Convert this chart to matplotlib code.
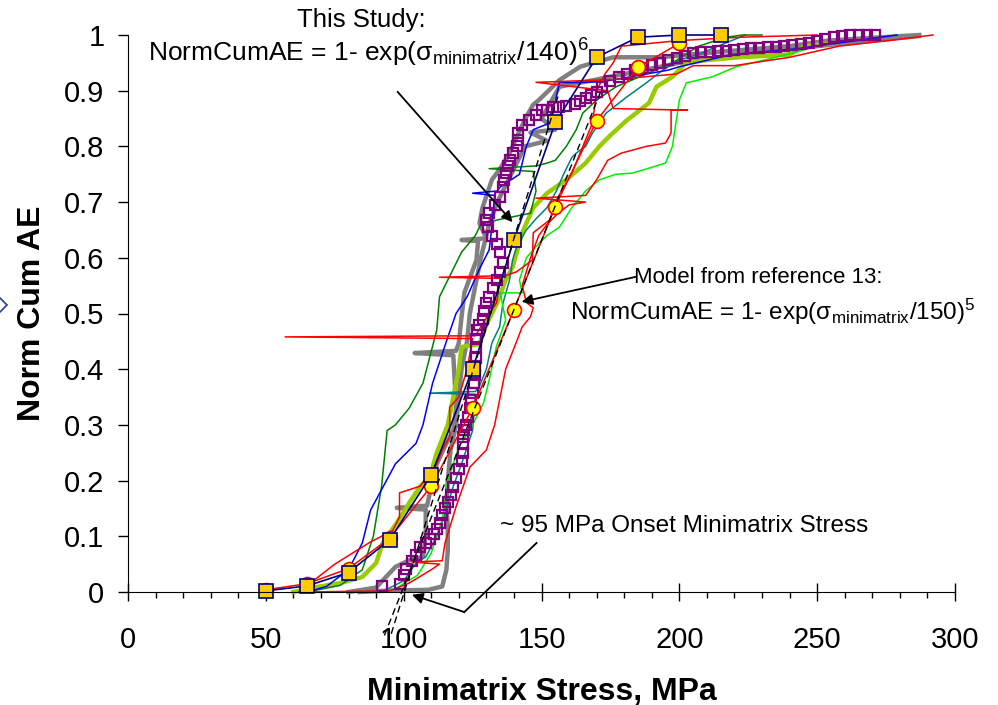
import numpy as np
import matplotlib.pyplot as plt
from matplotlib.ticker import MultipleLocator

plt.rcParams['font.family'] = ['Liberation Sans', 'DejaVu Sans']
plt.rcParams['mathtext.fontset'] = 'custom'
plt.rcParams['mathtext.rm'] = 'Liberation Sans'
plt.rcParams['mathtext.it'] = 'Liberation Sans:italic'

# --- model points (this study, Weibull m=6, s0=140) ---
study_x = [50, 65, 80, 95, 110, 125, 140, 155, 170, 185, 200, 215]
study_y = [0.002, 0.011, 0.035, 0.094, 0.21, 0.40, 0.632, 0.843, 0.96, 0.996, 1.0, 1.0]

# --- model points (reference 13, m=5, s0=150) ---
ref13_x = [50, 65, 80, 95, 110, 125, 140, 155, 170, 185, 200]
ref13_y = [0.004, 0.015, 0.042, 0.097, 0.19, 0.33, 0.507, 0.692, 0.846, 0.942, 0.985]

# --- tangent lines giving the onset stress ---
tan_study_x = [95.5, 156.0]
tan_study_y = [-0.075, 0.89]
tan_ref13_x = [93.0, 172.0]
tan_ref13_y = [-0.078, 0.905]

# --- measured curves ---
purple_x = [92, 98.5, 100, 101, 103, 104.5, 106, 108, 109.5, 111, 112, 113, 114, 115, 116,
            117, 118, 119, 120, 121, 121.4, 121.4, 121.6, 122, 122.7, 123.5, 124, 124.6, 125,
            125.4, 125.8, 126, 126.2, 126.4, 126.4, 126.6, 127.5, 128.6, 129.3, 130, 131, 132.3,
            133.7, 134.8, 136, 135, 133.7, 132, 130.5, 130, 131, 133, 135, 136, 136.5, 137,
            137.7, 138.4, 139.5, 141, 141.3, 141.5, 143, 145.6, 148, 150, 152, 154, 156.5, 159,
            162, 164, 166, 168, 170, 172, 175, 178, 181, 184, 187, 190, 193, 196, 199, 202, 205,
            208, 211, 214, 217, 220, 223, 226, 229, 232, 235, 238, 241, 244, 247, 250, 253, 256,
            259, 262, 265, 268, 271]
purple_y = [0.010, 0.015, 0.03, 0.042, 0.055, 0.066, 0.08, 0.088, 0.095, 0.105, 0.113, 0.124,
            0.138, 0.15, 0.162, 0.175, 0.188, 0.205, 0.22, 0.235, 0.25, 0.265, 0.278, 0.29, 0.30,
            0.315, 0.33, 0.345, 0.357, 0.375, 0.39, 0.405, 0.42, 0.44, 0.455, 0.47, 0.48, 0.49,
            0.505, 0.518, 0.53, 0.545, 0.56, 0.575, 0.59, 0.61, 0.625, 0.64, 0.655, 0.668, 0.68,
            0.695, 0.71, 0.727, 0.74, 0.752, 0.765, 0.776, 0.788, 0.80, 0.812, 0.824, 0.838,
            0.847, 0.856, 0.865, 0.866, 0.87, 0.87, 0.872, 0.876, 0.882, 0.886, 0.892, 0.897,
            0.907, 0.918, 0.925, 0.93, 0.937, 0.941, 0.946, 0.95, 0.955, 0.958, 0.963, 0.967,
            0.969, 0.97, 0.971, 0.972, 0.973, 0.974, 0.976, 0.977, 0.978, 0.979, 0.981, 0.982,
            0.984, 0.986, 0.99, 0.993, 0.997, 0.999, 1.0, 1.0, 1.0, 1.0]

gray1_x = [80, 90, 97, 102, 107, 108, 108, 97.5, 108.5, 110, 112, 115.5, 118, 119, 118.5, 118,
           104, 119, 120, 121, 122, 126.4, 127, 121, 130, 127.5, 128.6, 132, 135, 138.4, 141,
           144.5, 147, 149, 156.5, 164, 176, 193, 215, 240, 254, 270, 287]
gray1_y = [0, 0.008, 0.045, 0.057, 0.063, 0.10, 0.148, 0.151, 0.155, 0.19, 0.23, 0.267, 0.29,
           0.33, 0.38, 0.425, 0.429, 0.433, 0.447, 0.494, 0.537, 0.596, 0.63, 0.632, 0.635,
           0.662, 0.69, 0.74, 0.76, 0.788, 0.817, 0.853, 0.875, 0.883, 0.919, 0.943, 0.96, 0.96,
           0.97, 0.98, 0.99, 0.995, 1.0]
gray2_x = [84, 92, 109, 114, 115.5, 116, 116, 115.5, 116, 117, 119, 120, 121, 123, 124, 126,
           128, 131, 134, 137, 140, 142, 144, 152, 146, 155, 150, 156.5, 175, 200, 230, 260, 287]
gray2_y = [0, 0.002, 0.004, 0.01, 0.04, 0.075, 0.117, 0.153, 0.2, 0.255, 0.3, 0.35, 0.4, 0.45,
           0.5, 0.55, 0.6, 0.66, 0.7, 0.73, 0.76, 0.78, 0.80, 0.81, 0.825, 0.83, 0.85, 0.907,
           0.925, 0.95, 0.97, 0.985, 0.998]

lime_x = [60, 68.5, 77, 85, 90, 92.4, 97.5, 102, 106, 109.4, 112, 116, 118, 120, 121, 127.5,
          130, 134, 137, 139.5, 143, 147, 152, 159, 166, 171, 175, 181, 189, 191.7, 197.5, 202.5,
          210, 222, 240, 246, 255]
lime_y = [0, 0.009, 0.016, 0.027, 0.052, 0.088, 0.124, 0.16, 0.19, 0.206, 0.25, 0.30, 0.35,
          0.40, 0.44, 0.445, 0.48, 0.52, 0.56, 0.583, 0.645, 0.69, 0.716, 0.74, 0.77, 0.80, 0.82,
          0.847, 0.878, 0.907, 0.925, 0.95, 0.955, 0.96, 0.965, 0.98, 0.985]

teal_x = [92, 100, 104.5, 108, 112, 115, 118, 121, 123, 125, 126, 109.4, 126, 127.5, 130, 132,
          134.8, 136, 138.4, 139.5, 141, 144.5, 148, 152, 155.4, 158, 161, 162.6, 166, 168.5,
          173.5, 181, 188, 194, 200, 208, 213, 224]
teal_y = [0, 0.02, 0.052, 0.063, 0.1, 0.14, 0.19, 0.23, 0.26, 0.29, 0.355, 0.357, 0.36, 0.37,
          0.40, 0.447, 0.476, 0.518, 0.56, 0.596, 0.62, 0.65, 0.67, 0.69, 0.72, 0.75, 0.78,
          0.788, 0.80, 0.824, 0.86, 0.889, 0.914, 0.937, 0.955, 0.967, 0.978, 1.0]

bright_x = [95, 105, 110, 114, 116, 120, 125, 129, 131, 133.6, 137, 135, 143, 142, 144.5, 148,
            152, 156.5, 161, 166, 171, 177, 183, 195, 197.5, 200, 202.5, 212, 220.6, 235, 254]
bright_y = [0, 0.03, 0.07, 0.13, 0.2, 0.26, 0.3, 0.34, 0.38, 0.44, 0.488, 0.537, 0.537, 0.56,
            0.6, 0.62, 0.64, 0.655, 0.69, 0.72, 0.74, 0.75, 0.752, 0.77, 0.8, 0.883, 0.914,
            0.925, 0.943, 0.96, 0.985]

dkgreen_x = [62, 68, 77, 85, 89, 92, 94, 97, 102, 107, 112, 113, 117, 121, 126, 128, 134, 146,
             148, 147, 131, 148, 152, 155, 159, 162.6, 165, 170, 177, 188, 197.5, 207, 217, 223,
             230]
dkgreen_y = [0, 0.003, 0.012, 0.04, 0.1, 0.19, 0.29, 0.30, 0.33, 0.375, 0.47, 0.53, 0.57, 0.61,
             0.64, 0.66, 0.668, 0.68, 0.72, 0.755, 0.76, 0.765, 0.77, 0.775, 0.8, 0.83, 0.86,
             0.883, 0.907, 0.93, 0.95, 0.98, 0.996, 1.0, 1.0]

blue_x = [65, 72, 80, 85, 88, 97, 104.5, 107, 110.5, 115.5, 119, 123, 127.5, 131, 132, 133, 125,
          134, 135, 142, 144.5, 147, 152, 155, 156.5, 172, 196, 200, 219, 242, 279]
blue_y = [0, 0.01, 0.04, 0.088, 0.147, 0.23, 0.267, 0.3, 0.375, 0.45, 0.5, 0.53, 0.58, 0.614,
          0.655, 0.712, 0.716, 0.72, 0.727, 0.75, 0.8, 0.83, 0.84, 0.88, 0.914, 0.916, 0.937,
          0.943, 0.965, 0.975, 1.0]

red1_x = [62, 95, 102, 110, 113, 103, 114, 115, 119, 124, 130, 133, 137, 141, 143, 146, 147,
          144.5, 143, 146, 149, 152, 156, 160, 166, 148, 166, 170, 174, 179, 188, 195, 197, 197,
          203, 176, 174, 148, 176, 199, 205, 220, 240, 258, 276, 292]
red1_y = [0, 0.002, 0.016, 0.04, 0.05, 0.054, 0.056, 0.088, 0.153, 0.224, 0.255, 0.30, 0.40,
          0.45, 0.476, 0.494, 0.51, 0.52, 0.55, 0.60, 0.64, 0.66, 0.68, 0.695, 0.70, 0.707,
          0.712, 0.74, 0.775, 0.788, 0.80, 0.806, 0.824, 0.865, 0.865, 0.868, 0.9, 0.915, 0.92,
          0.93, 0.945, 0.945, 0.96, 0.98, 0.99, 1.0]
red2_x = [62, 75, 88, 96, 98.5, 98.5, 106, 109.4, 112, 114, 116.7, 116.7, 120, 123, 125, 57,
          126, 131, 133.7, 135, 113, 137, 141, 146.7, 147, 153, 155.4, 161, 165, 168.5, 170, 173,
          176, 179, 200, 222, 250]
red2_y = [0, 0.05, 0.09, 0.11, 0.135, 0.178, 0.19, 0.213, 0.23, 0.255, 0.278, 0.332, 0.35,
          0.40, 0.455, 0.458, 0.46, 0.5, 0.519, 0.563, 0.565, 0.568, 0.575, 0.596, 0.645, 0.668,
          0.704, 0.752, 0.8, 0.842, 0.9, 0.93, 0.95, 0.98, 0.99, 0.996, 1.0]

fig = plt.figure(figsize=(9.98, 7.05), dpi=100)
ax = fig.add_axes([128/998, 113/705, 827/998, 557/705])

# measured curves
ax.plot(gray1_x, gray1_y, color='#808080', lw=3.2, clip_on=False)
ax.plot(gray2_x, gray2_y, color='#808080', lw=3.2, clip_on=False)
ax.plot(lime_x, lime_y, color='#99cc00', lw=3.2, clip_on=False)
ax.plot(teal_x, teal_y, color='#008080', lw=1.1, clip_on=False)
ax.plot(bright_x, bright_y, color='#00ee00', lw=1.1, clip_on=False)
ax.plot(dkgreen_x, dkgreen_y, color='#008000', lw=1.1, clip_on=False)
ax.plot(blue_x, blue_y, color='#0000ff', lw=1.1, clip_on=False)
ax.plot(red1_x, red1_y, color='#ff0000', lw=1.1, clip_on=False)
ax.plot(red2_x, red2_y, color='#ff0000', lw=1.1, clip_on=False)
ax.plot(purple_x, purple_y, ls='none', marker='s', ms=6.5, mfc='none', mec='#800080',
        mew=1.6, clip_on=False)

# models
ax.plot(ref13_x, ref13_y, color='#ff0000', lw=1.1, marker='o', ms=10, mfc='#ffff00',
        mec='#ff0000', mew=1.2, clip_on=False)
ax.plot(study_x, study_y, color='#000080', lw=1.2, marker='s', ms=10.5, mfc='#ffcc00',
        mec='#000080', mew=1.2, clip_on=False)
ax.plot(tan_study_x, tan_study_y, color='black', lw=1.0, ls=(0, (5, 3)), clip_on=False)
ax.plot(tan_ref13_x, tan_ref13_y, color='black', lw=1.0, ls=(0, (5, 3)), clip_on=False)

ax.set_xlim(0, 300)
ax.set_ylim(0, 1)
ax.spines['top'].set_visible(False)
ax.spines['right'].set_visible(False)
ax.xaxis.set_major_locator(MultipleLocator(50))
ax.xaxis.set_minor_locator(MultipleLocator(10))
ax.set_yticks(np.arange(0, 1.01, 0.1))
ax.set_yticklabels(['0', '0.1', '0.2', '0.3', '0.4', '0.5', '0.6', '0.7', '0.8', '0.9', '1'])
ax.tick_params(axis='x', which='major', direction='inout', length=13, width=1, pad=18,
               labelsize=21)
ax.tick_params(axis='x', which='minor', direction='out', length=4.5, width=1)
ax.tick_params(axis='y', which='major', direction='out', length=7, width=1, pad=10,
               labelsize=21)

ax.set_xlabel('Minimatrix Stress, MPa', fontsize=23, fontweight='bold')
ax.set_ylabel('Norm Cum AE', fontsize=23, fontweight='bold')
ax.xaxis.set_label_coords(0.5, -0.152)
ax.yaxis.set_label_coords(-0.098, 0.5)

# annotations
fig.text(361/998, 1 - 27/705, 'This Study:', ha='center', va='baseline', fontsize=18.5)
fig.text(368/998, 1 - 62/705,
         'NormCumAE = 1- exp(σ$_{\\mathregular{minimatrix}}$/140)$^{\\mathregular{6}}$',
         ha='center', va='baseline', fontsize=19)
fig.text(758/998, 1 - 283/705, 'Model from reference 13:', ha='center', va='baseline',
         fontsize=16)
fig.text(773/998, 1 - 320/705,
         'NormCumAE = 1- exp(σ$_{\\mathregular{minimatrix}}$/150)$^{\\mathregular{5}}$',
         ha='center', va='baseline', fontsize=17.5)
fig.text(500/998, 1 - 532/705, '~ 95 MPa Onset Minimatrix Stress', ha='left', va='baseline',
         fontsize=17.5)

arrow = dict(arrowstyle='-|>', color='black', lw=1.3, mutation_scale=16, shrinkA=0, shrinkB=0)
ax.annotate('', xy=(139.5, 0.664), xytext=(97.8, 0.898), arrowprops=arrow,
            annotation_clip=False)
ax.annotate('', xy=(142.8, 0.521), xytext=(184.4, 0.566), arrowprops=arrow,
            annotation_clip=False)
ax.plot([148.2, 122.0], [0.088, -0.036], color='black', lw=1.3, clip_on=False)
ax.annotate('', xy=(103.0, -0.005), xytext=(122.0, -0.036), arrowprops=arrow,
            annotation_clip=False)

# leftover legend symbol at the edge
fig.add_artist(plt.Line2D([0.0], [1 - 305/705], marker='D', ms=7, mfc='white',
                          mec='#2040a0', mew=1.2, ls='none', transform=fig.transFigure))

fig.savefig('out.png', dpi=100)
